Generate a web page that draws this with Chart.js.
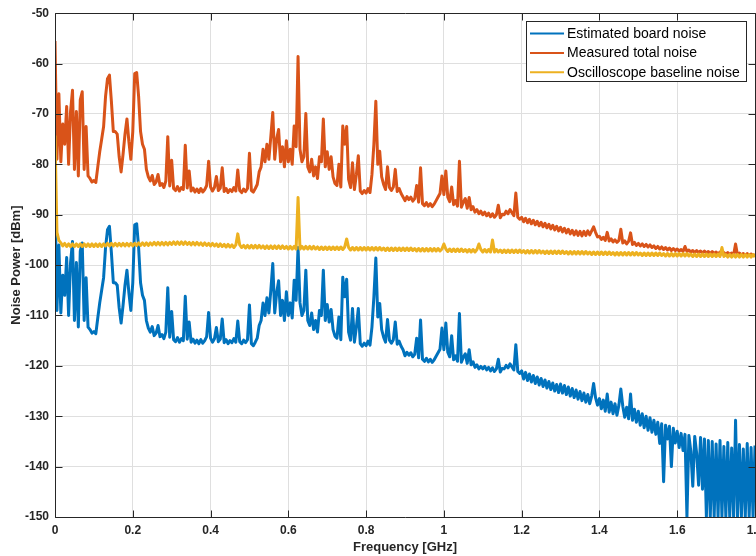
<!DOCTYPE html>
<html>
<head>
<meta charset="utf-8">
<script src="https://cdn.jsdelivr.net/npm/chart.js@4/dist/chart.umd.min.js"></script>
<style>
html,body{margin:0;padding:0;background:#fff;overflow:hidden;width:756px;height:556px;}
canvas{display:block;}
</style>
</head>
<body>
<canvas id="c" width="775" height="556"></canvas>
<script>
// Frequency sample grid [GHz]
const freqGHz = [
0,0.005,0.01,0.015,0.02,0.025,0.03,0.035,0.04,0.045,0.05,0.055,0.06,0.065,0.07,0.075,0.08,0.085,0.09,0.095,
0.1,0.105,0.11,0.115,0.12,0.125,0.13,0.135,0.14,0.145,0.15,0.155,0.16,0.165,0.17,0.175,0.18,0.185,0.19,0.195,
0.2,0.205,0.21,0.215,0.22,0.225,0.23,0.235,0.24,0.245,0.25,0.255,0.26,0.265,0.27,0.275,0.28,0.285,0.29,0.295,
0.3,0.305,0.31,0.315,0.32,0.325,0.33,0.335,0.34,0.345,0.35,0.355,0.36,0.365,0.37,0.375,0.38,0.385,0.39,0.395,
0.4,0.405,0.41,0.415,0.42,0.425,0.43,0.435,0.44,0.445,0.45,0.455,0.46,0.465,0.47,0.475,0.48,0.485,0.49,0.495,
0.5,0.505,0.51,0.515,0.52,0.525,0.53,0.535,0.54,0.545,0.55,0.555,0.56,0.565,0.57,0.575,0.58,0.585,0.59,0.595,
0.6,0.605,0.61,0.615,0.62,0.625,0.63,0.635,0.64,0.645,0.65,0.655,0.66,0.665,0.67,0.675,0.68,0.685,0.69,0.695,
0.7,0.705,0.71,0.715,0.72,0.725,0.73,0.735,0.74,0.745,0.75,0.755,0.76,0.765,0.77,0.775,0.78,0.785,0.79,0.795,
0.8,0.805,0.81,0.815,0.82,0.825,0.83,0.835,0.84,0.845,0.85,0.855,0.86,0.865,0.87,0.875,0.88,0.885,0.89,0.895,
0.9,0.905,0.91,0.915,0.92,0.925,0.93,0.935,0.94,0.945,0.95,0.955,0.96,0.965,0.97,0.975,0.98,0.985,0.99,0.995,
1.0,1.005,1.01,1.015,1.02,1.025,1.03,1.035,1.04,1.045,1.05,1.055,1.06,1.065,1.07,1.075,1.08,1.085,1.09,1.095,
1.1,1.105,1.11,1.115,1.12,1.125,1.13,1.135,1.14,1.145,1.15,1.155,1.16,1.165,1.17,1.175,1.18,1.185,1.19,1.195,
1.2,1.205,1.21,1.215,1.22,1.225,1.23,1.235,1.24,1.245,1.25,1.255,1.26,1.265,1.27,1.275,1.28,1.285,1.29,1.295,
1.3,1.305,1.31,1.315,1.32,1.325,1.33,1.335,1.34,1.345,1.35,1.355,1.36,1.365,1.37,1.375,1.38,1.385,1.39,1.395,
1.4,1.405,1.41,1.415,1.42,1.425,1.43,1.435,1.44,1.445,1.45,1.455,1.46,1.465,1.47,1.475,1.48,1.485,1.49,1.495,
1.5,1.505,1.51,1.515,1.52,1.525,1.53,1.535,1.54,1.545,1.55,1.555,1.56,1.565,1.57,1.575,1.58,1.585,1.59,1.595,
1.6,1.605,1.61,1.615,1.62,1.625,1.63,1.635,1.64,1.645,1.65,1.655,1.66,1.665,1.67,1.675,1.68,1.685,1.69,1.695,
1.7,1.705,1.71,1.715,1.72,1.725,1.73,1.735,1.74,1.745,1.75,1.755,1.76,1.765,1.77,1.775,1.78,1.785,1.79,1.795,
1.8
];

// Estimated board noise [dBm]
const estimatedBoardNoise = [
-85.5,-109,-96,-109.5,-102,-106,-98.5,-110,-99.5,-95.3,-111,-99.5,-112.3,-97.2,-95.6,-111,-102.5,-112.3,-112.8,-113.5,
-113.2,-113.6,-110.5,-107.5,-105,-102.5,-96.5,-93,-92.3,-97.5,-103.5,-103.5,-104,-108.5,-111.5,-108,-104,-101,-105.5,-109,
-103.5,-92,-91.8,-96.5,-103.5,-106,-107,-111,-112.5,-113.3,-112.2,-114,-113.5,-112,-114.2,-113.8,-114.6,-113.3,-104.5,-114.3,
-109.2,-114.8,-115.2,-114.4,-115.3,-114.6,-115,-106.2,-114.7,-111.3,-115.3,-114.7,-115.5,-114.9,-115.6,-114.8,-115.5,-115,-114.2,-109.4,
-114.5,-115.3,-114.6,-112.4,-115.2,-114.7,-110.7,-115.4,-114.8,-115.6,-115,-115.4,-114.6,-115.3,-111.1,-115.2,-115.6,-114.9,-115.4,-114.8,
-107.9,-115.6,-116,-115.3,-114.5,-112,-111,-107.5,-110,-106.5,-109.5,-105,-99.7,-109.5,-105.5,-103.1,-110,-107,-111,-105.3,
-110,-107.5,-110.5,-103,-107,-96.5,-107.5,-110,-109,-101,-111,-112,-109.5,-112.8,-111,-113.3,-109,-110,-101,-111,
-107.8,-111.3,-108.8,-112.8,-114.1,-114.5,-110.3,-114.8,-102.4,-106.3,-102.8,-113.3,-114.9,-108.6,-115.3,-112.3,-108.6,-115.6,-116.1,-115.5,
-116,-115.1,-115.9,-112.3,-106.3,-98.6,-110.3,-107.6,-112.8,-114.3,-115.3,-110.8,-114.9,-115.5,-114.8,-111.3,-115.7,-115.1,-116.1,-116.8,
-118,-117.3,-117.9,-117.4,-118.2,-117.7,-114.5,-118.4,-110.9,-118.7,-119.1,-118.5,-119.2,-118.7,-119.3,-118.8,-118.1,-117.4,-116.7,-112.5,
-116.8,-111.5,-117.3,-118.2,-114,-118.8,-118,-119.1,-109.6,-119.3,-118.3,-117.6,-119.5,-116.8,-119.8,-119.2,-120.3,-119.8,-120.6,-120.1,
-120.6,-120.1,-120.8,-120.3,-121,-120.4,-121.1,-120.6,-118.7,-121.2,-120.5,-120.6,-119.9,-120.4,-119.6,-120.2,-120.8,-115.8,-121.1,-121.5,
-121,-122.6,-121.3,-122.9,-121.6,-123.2,-121.9,-123.5,-122.2,-123.8,-122.5,-124.1,-122.8,-124.4,-123.1,-124.7,-123.4,-125,-123.7,-125.3,
-123.6,-125.4,-123.9,-125.7,-124.2,-126,-124.5,-126.3,-124.8,-126.6,-125.1,-126.9,-125.4,-127.2,-125.7,-127.5,-126,-123.5,-126.3,-127.8,
-126.5,-128.5,-126.8,-129,-125.6,-129.2,-127.2,-129.5,-127.5,-129.8,-127.8,-124.6,-128,-130.2,-128.2,-130.5,-125.6,-130.8,-128.6,-131.2,
-129,-131.8,-129.5,-132.3,-130,-132.8,-130.3,-133.2,-130.8,-133.6,-131.2,-135.4,-131.5,-143,-131.8,-134.5,-132,-140,-132.4,-135.3,
-133,-136.2,-133.4,-136.8,-133.6,-150,-133.8,-137,-143.9,-134,-137.4,-143.7,-134.2,-144.5,-134.5,-150,-134.8,-150,-135,-150,
-135.5,-150,-134.8,-150,-136,-150,-135.2,-150,-136.3,-150,-130.8,-150,-135.6,-150,-136.5,-150,-135.4,-150,-136.2,-150,
-135.8
];

// Measured total noise [dBm]
const measuredTotalNoise = [
-55.5,-79,-66,-79.5,-72,-76,-68.5,-80,-69.5,-65.3,-81,-69.5,-82.3,-67.2,-65.6,-81,-72.5,-82.3,-82.8,-83.5,
-83.2,-83.6,-80.5,-77.5,-75,-72.5,-66.5,-63,-62.3,-67.5,-73.5,-73.5,-74,-78.5,-81.5,-78,-74,-71,-75.5,-79,
-73.5,-62,-61.8,-66.5,-73.5,-76,-77,-81,-82.5,-83.3,-82.2,-84,-83.5,-82,-84.2,-83.8,-84.6,-83.3,-74.5,-84.3,
-79.2,-84.8,-85.2,-84.4,-85.3,-84.6,-85,-76.2,-84.7,-81.3,-85.3,-84.7,-85.5,-84.9,-85.6,-84.8,-85.5,-85,-84.2,-79.4,
-84.5,-85.3,-84.6,-82.4,-85.2,-84.7,-80.7,-85.4,-84.8,-85.6,-85,-85.4,-84.6,-85.3,-81.1,-85.2,-85.6,-84.9,-85.4,-84.8,
-77.8,-85.2,-85.5,-84.8,-84,-81.5,-80.5,-77,-79.5,-76,-79,-74.5,-69.7,-79,-75,-73.1,-79.5,-76.5,-80.5,-75.3,
-79.5,-77,-80,-72.4,-76.5,-58.6,-77,-79.5,-78.5,-69.9,-80.5,-81.5,-79,-82.3,-80.5,-82.8,-78.5,-79.5,-71,-80.5,
-77.5,-81,-78.5,-82.5,-83.8,-84.2,-80,-84.5,-72.4,-76,-72.5,-83,-84.6,-79.7,-85,-82,-78.3,-85.3,-85.8,-85.2,
-85.7,-84.8,-85.6,-82,-76,-67.5,-80,-77.4,-82.5,-84,-85,-80.5,-84.6,-85.2,-84.5,-81,-85.4,-84.8,-85.8,-86.5,
-87.2,-86.4,-87,-86.5,-87.3,-86.8,-84.2,-87.5,-80.7,-87.8,-88.2,-87.6,-88.3,-87.8,-88.4,-87.9,-87.2,-86.5,-85.8,-82.3,
-86,-81.3,-86.5,-87.4,-84.5,-88,-87.2,-88.3,-79.4,-88.5,-87.5,-86.8,-88.7,-86.6,-89,-88.4,-89.5,-89,-89.8,-89.3,
-90,-89.5,-90.2,-89.7,-90.4,-89.8,-90.5,-90,-88.1,-90.6,-89.9,-90,-89.3,-89.8,-89,-89.6,-90.2,-85.7,-90.5,-90.9,
-90.5,-91.4,-90.7,-91.6,-90.9,-91.8,-91.1,-92,-91.3,-92.2,-91.5,-92.4,-91.7,-92.6,-91.9,-92.8,-92.1,-93,-92.3,-93.2,
-92.5,-93.4,-92.7,-93.6,-92.9,-93.8,-93.1,-94,-93.2,-94.1,-93.3,-94.2,-93.3,-94.1,-93.2,-94,-93.2,-92.4,-93.5,-94.4,
-94.3,-94.9,-94.5,-95.1,-93.5,-95.2,-94.8,-95.4,-95,-95.5,-95.1,-92.9,-95.6,-95.2,-95.8,-95.3,-93.6,-95.9,-95.5,-96.1,
-95.7,-96.2,-95.8,-96.3,-95.9,-96.4,-96,-96.5,-96.2,-96.7,-96.3,-96.8,-96.4,-96.9,-96.5,-97,-96.6,-97.1,-96.7,-97.1,
-96.8,-97.2,-96.9,-97.3,-96.3,-97.3,-97,-97.4,-97.1,-97.5,-97.1,-97.5,-97.2,-97.6,-97.2,-97.6,-97.3,-97.7,-97.3,-97.7,
-97.4,-97.8,-97.4,-97.8,-97.5,-97.9,-97.5,-97.9,-97.6,-98,-95.8,-98,-97.6,-98,-97.7,-98.1,-97.7,-98.1,-97.8,-98.1,
-97.9
];

// Oscilloscope baseline noise [dBm]
const scopeBaselineNoise = [
-74.3,-93.5,-95.1,-95.6,-96.2,-95.7,-96.3,-95.8,-96.3,-95.8,-96.3,-95.8,-96.3,-95.8,-96.3,-95.8,-96.3,-95.8,-96.3,-95.8,
-96.3,-95.8,-96.3,-95.8,-96.3,-95.8,-96.2,-95.7,-96.2,-95.7,-96.2,-95.7,-96.2,-95.7,-96.2,-95.7,-96.2,-95.7,-96.2,-95.7,
-96.2,-95.7,-96.1,-95.6,-96.1,-95.6,-96.1,-95.6,-96.1,-95.6,-96,-95.5,-96,-95.5,-96,-95.5,-96,-95.5,-96,-95.5,
-95.9,-95.4,-95.9,-95.4,-95.9,-95.4,-95.9,-95.4,-95.9,-95.5,-96,-95.5,-96,-95.5,-96,-95.6,-96.1,-95.6,-96.1,-95.7,
-96.2,-95.7,-96.2,-95.8,-96.3,-95.8,-96.3,-95.9,-96.4,-95.9,-96.4,-96,-96.5,-96,-93.8,-96,-96.5,-96.1,-96.6,-96.1,
-96.6,-96.1,-96.6,-96.1,-96.6,-96.1,-96.6,-96.2,-96.7,-96.2,-96.7,-96.2,-96.7,-96.2,-96.7,-96.2,-96.7,-96.2,-96.7,-96.3,
-96.8,-96.3,-96.8,-96.3,-96.8,-86.6,-96.8,-96.3,-96.8,-96.3,-96.8,-96.3,-96.8,-96.3,-96.8,-96.4,-96.9,-96.4,-96.9,-96.4,
-96.9,-96.4,-96.9,-96.4,-96.9,-96.4,-96.9,-96.4,-96.9,-96.4,-94.8,-96.5,-97,-96.5,-97,-96.5,-97,-96.5,-97,-96.5,
-97,-96.5,-97,-96.5,-97,-96.5,-97,-96.5,-97,-96.6,-97.1,-96.6,-97.1,-96.6,-97.1,-96.6,-97.1,-96.6,-97.1,-96.6,
-97.1,-96.6,-97.1,-96.6,-97.1,-96.7,-97.2,-96.7,-97.2,-96.7,-97.2,-96.7,-97.2,-96.7,-97.2,-96.7,-97.2,-96.7,-97.2,-96.8,
-95.8,-96.8,-97.3,-96.8,-97.3,-96.8,-97.3,-96.8,-97.3,-96.8,-97.3,-96.9,-97.4,-96.9,-97.4,-96.9,-97.4,-96.9,-95.8,-96.9,
-97.4,-96.9,-97.4,-96.9,-97.4,-95,-97.4,-96.9,-97.4,-97,-97.5,-97,-97.5,-97,-97.5,-97,-97.5,-97,-97.5,-97,
-97.5,-97.1,-97.6,-97.1,-97.6,-97.1,-97.6,-97.1,-97.6,-97.1,-97.6,-97.2,-97.7,-97.2,-97.7,-97.2,-97.7,-97.2,-97.7,-97.2,
-97.7,-97.2,-97.7,-97.3,-97.8,-97.3,-97.8,-97.3,-97.8,-97.3,-97.8,-97.3,-97.8,-97.3,-97.8,-97.4,-97.9,-97.4,-97.9,-97.4,
-97.9,-97.4,-97.9,-97.4,-97.9,-97.4,-97.9,-97.5,-98,-97.5,-98,-97.5,-98,-97.5,-98,-97.5,-98,-97.5,-98,-97.5,
-98,-97.6,-98.1,-97.6,-98.1,-97.6,-98.1,-97.6,-98.1,-97.6,-98.1,-97.6,-98.1,-97.7,-98.2,-97.7,-98.2,-97.7,-98.2,-97.7,
-98.2,-97.7,-98.2,-97.7,-98.2,-97.7,-98.2,-97.8,-98.3,-97.8,-98.3,-97.8,-98.3,-97.8,-98.3,-97.8,-98.3,-97.8,-98.3,-97.8,
-98.3,-97.8,-98.3,-96.5,-98.3,-97.9,-98.4,-97.9,-98.4,-97.9,-98.4,-97.9,-98.4,-97.9,-98.4,-97.9,-98.4,-97.9,-98.4,-97.9,
-98.4
];

const seriesLabels = ['Estimated board noise', 'Measured total noise', 'Oscilloscope baseline noise'];
const xTickValues = [0, 0.2, 0.4, 0.6, 0.8, 1, 1.2, 1.4, 1.6, 1.8];
const xTickLabels = ['0', '0.2', '0.4', '0.6', '0.8', '1', '1.2', '1.4', '1.6', '1.8'];
const yTickValues = [-150, -140, -130, -120, -110, -100, -90, -80, -70, -60, -50];
const yTickLabels = ['-150', '-140', '-130', '-120', '-110', '-100', '-90', '-80', '-70', '-60', '-50'];

[estimatedBoardNoise, measuredTotalNoise, scopeBaselineNoise].forEach((a, i) => {
  if (a.length !== freqGHz.length) console.error('length mismatch', i, a.length, freqGHz.length);
});

const toXY = arr => freqGHz.map((f, i) => ({ x: f, y: arr[i] }));

const AX = '#262626';
const FAMILY = '"Liberation Sans", Arial, Helvetica, sans-serif';

const framePlugin = {
  id: 'matlabFrame',
  afterDatasetsDraw(chart) {
    const { ctx, chartArea: a, scales: { x, y } } = chart;
    ctx.save();
    ctx.strokeStyle = AX;
    ctx.lineWidth = 1;
    const L = Math.round(a.left) + 0.5, R = Math.round(a.right) + 0.5;
    const T = Math.round(a.top) + 0.5, B = Math.round(a.bottom) + 0.5;
    const tl = 7;
    ctx.beginPath();
    x.ticks.forEach(t => {
      const px = Math.round(x.getPixelForValue(t.value)) + 0.5;
      ctx.moveTo(px, B); ctx.lineTo(px, B - tl);
      ctx.moveTo(px, T); ctx.lineTo(px, T + tl);
    });
    y.ticks.forEach(t => {
      const py = Math.round(y.getPixelForValue(t.value)) + 0.5;
      ctx.moveTo(L, py); ctx.lineTo(L + tl, py);
      ctx.moveTo(R, py); ctx.lineTo(R - tl, py);
    });
    ctx.stroke();
    ctx.beginPath();
    ctx.rect(L, T, R - L, B - T);
    ctx.stroke();
    ctx.restore();
  }
};

const legendPlugin = {
  id: 'boxLegend',
  afterDraw(chart) {
    const { ctx, chartArea: a } = chart;
    const ds = chart.data.datasets;
    ctx.save();
    ctx.font = '14px ' + FAMILY;
    const maxW = Math.max(...ds.map(d => ctx.measureText(d.label).width));
    const lineLen = 34, padL = 4, gap = 3, padR = 6, rowH = 19.3, padT = 12.6;
    const w = Math.round(padL + lineLen + gap + maxW + padR);
    const h = 60;
    const right = Math.round(a.right) - 9;
    const top = Math.round(a.top) + 8;
    const left = right - w;
    ctx.fillStyle = '#ffffff';
    ctx.fillRect(left, top, w, h);
    ctx.strokeStyle = AX;
    ctx.lineWidth = 1;
    ctx.strokeRect(left + 0.5, top + 0.5, w, h);
    ds.forEach((d, i) => {
      const cy = top + padT + i * rowH;
      ctx.strokeStyle = d.borderColor;
      ctx.lineWidth = 2;
      ctx.beginPath();
      ctx.moveTo(left + padL, cy);
      ctx.lineTo(left + padL + lineLen, cy);
      ctx.stroke();
      ctx.fillStyle = '#000000';
      ctx.textBaseline = 'middle';
      ctx.textAlign = 'left';
      ctx.fillText(d.label, left + padL + lineLen + gap, cy + 0.5);
    });
    ctx.restore();
  }
};

new Chart(document.getElementById('c'), {
  type: 'line',
  data: {
    datasets: [
      { label: seriesLabels[0], data: toXY(estimatedBoardNoise), borderColor: '#0072BD', order: 3 },
      { label: seriesLabels[1], data: toXY(measuredTotalNoise), borderColor: '#D95319', order: 2 },
      { label: seriesLabels[2], data: toXY(scopeBaselineNoise), borderColor: '#EDB120', order: 1 }
    ]
  },
  options: {
    responsive: false,
    animation: false,
    devicePixelRatio: 1,
    events: [],
    elements: {
      point: { radius: 0 },
      line: { borderWidth: 3, tension: 0, borderJoinStyle: 'round', fill: false }
    },
    layout: { padding: { top: 8, right: 20, bottom: 0, left: 0 } },
    plugins: { legend: { display: false }, tooltip: { enabled: false } },
    scales: {
      x: {
        type: 'linear',
        min: 0, max: 1.8,
        afterBuildTicks: s => { s.ticks = xTickValues.map(v => ({ value: v })); },
        afterFit: s => { s.height = 39; },
        grid: { color: '#dfdfdf', lineWidth: 1, drawTicks: false },
        border: { display: false },
        ticks: {
          padding: 6,
          maxRotation: 0,
          color: AX,
          font: { family: FAMILY, size: 12, weight: 'bold' },
          callback: (v, i) => xTickLabels[i]
        },
        title: {
          display: true, text: 'Frequency [GHz]', color: AX,
          font: { family: FAMILY, size: 13, weight: 'bold' },
          padding: { top: 0, bottom: 1 }
        }
      },
      y: {
        type: 'linear',
        min: -150, max: -50,
        afterBuildTicks: s => { s.ticks = yTickValues.map(v => ({ value: v })); },
        afterFit: s => { s.width = 55; },
        grid: { color: '#dfdfdf', lineWidth: 1, drawTicks: false },
        border: { display: false },
        ticks: {
          padding: 6,
          color: AX,
          font: { family: FAMILY, size: 12, weight: 'bold' },
          callback: (v, i) => yTickLabels[i]
        },
        title: {
          display: true, text: 'Noise Power [dBm]', color: AX,
          font: { family: FAMILY, size: 13, weight: 'bold' },
          padding: { top: 9, bottom: 0 }
        }
      }
    }
  },
  plugins: [framePlugin, legendPlugin]
});
</script>
</body>
</html>
